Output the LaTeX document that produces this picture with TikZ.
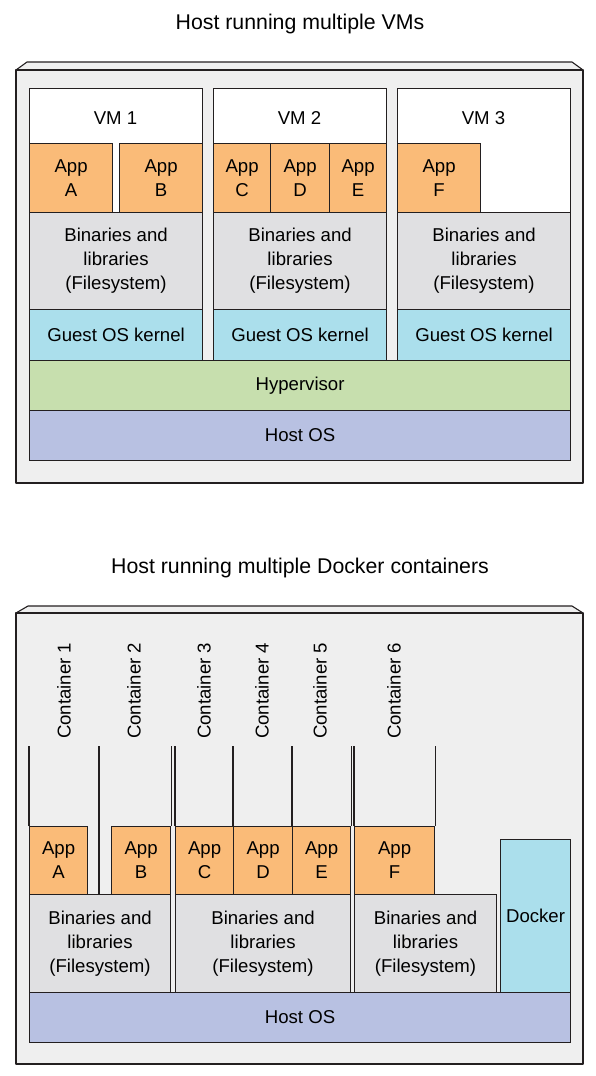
\documentclass[tikz,border=0pt]{standalone}
\usepackage{fontspec}
\setmainfont{Liberation Sans}
\usepackage{tikz}
\definecolor{edge}{RGB}{35,31,32}
\definecolor{hostgray}{RGB}{239,239,239}
\definecolor{apporange}{RGB}{250,187,120}
\definecolor{bingray}{RGB}{224,224,226}
\definecolor{kernblue}{RGB}{171,223,236}
\definecolor{hypgreen}{RGB}{199,223,174}
\definecolor{hostblue}{RGB}{184,193,226}
\tikzset{
  blk/.style={draw=edge, line width=1.1pt, inner sep=0pt, anchor=north west, align=center, font=\fontsize{18.6}{24}\selectfont},
  vmbox/.style={blk, fill=white},
  app/.style={blk, fill=apporange},
  bins/.style={blk, fill=bingray},
  kern/.style={blk, fill=kernblue},
  hyp/.style={blk, fill=hypgreen},
  hostos/.style={blk, fill=hostblue},
  hostbox/.style={draw=edge, line width=1.1pt, fill=hostgray, line join=round},
  heading/.style={font=\fontsize{21.3}{26}\selectfont},
  lbl/.style={font=\fontsize{18.6}{24}\selectfont},
  cline/.style={draw=edge, line width=1.1pt}
}
% name, style, x1, y1, x2, y2, text
\newcommand{\blk}[7]{%
  \pgfmathsetmacro\bw{#5-#3}\pgfmathsetmacro\bh{#6-#4}%
  \node[#2, minimum width=\bw pt, minimum height=\bh pt] (#1) at (#3,#4) {#7};}

\begin{document}
\begin{tikzpicture}[x=1pt, y=-1pt]
\useasboundingbox (0,0) rectangle (596,1076);

% host with VMs
\node[heading] (vmtitle) at (300,24) {Host running multiple VMs};
\draw[hostbox] (16,70) -- (27,62) -- (572,62) -- (583,70) -- cycle;
\draw[hostbox] (16,70) rectangle (583,483);
\blk{vmOne}{vmbox}{29}{88}{202}{212}{}
\blk{vmTwo}{vmbox}{213}{88}{386}{212}{}
\blk{vmThree}{vmbox}{397}{88}{570}{212}{}
\node[lbl] (vmOneLbl) at (115.5,118) {VM 1};
\node[lbl] (vmTwoLbl) at (299.5,118) {VM 2};
\node[lbl] (vmThreeLbl) at (483.5,118) {VM 3};
\blk{vAppA}{app}{29}{143}{112}{212}{App\\A}
\blk{vAppB}{app}{119}{143}{202}{212}{App\\B}
\blk{vAppC}{app}{213}{143}{270}{212}{App\\C}
\blk{vAppD}{app}{270}{143}{329}{212}{App\\D}
\blk{vAppE}{app}{329}{143}{386}{212}{App\\E}
\blk{vAppF}{app}{397}{143}{480}{212}{App\\F}
\foreach \n/\x in {One/29,Two/213,Three/397} {
  \pgfmathsetmacro\xr{\x+173}
  \blk{vBin\n}{bins}{\x}{212}{\xr}{309}{Binaries and\\libraries\\(Filesystem)}
  \blk{vKern\n}{kern}{\x}{309}{\xr}{360}{Guest OS kernel}
}
\blk{hypervisor}{hyp}{29}{360}{570}{410}{Hypervisor}
\blk{vHost}{hostos}{29}{410}{570}{460}{Host OS}

% host with Docker containers
\node[heading] (dktitle) at (300,568) {Host running multiple Docker containers};
\draw[hostbox] (16,613) -- (28,606) -- (572,606) -- (583,613) -- cycle;
\draw[hostbox] (16,613) rectangle (583,1064);
\blk{dAppA}{app}{29}{826}{87}{894}{App\\A}
\blk{dAppB}{app}{111}{826}{170}{894}{App\\B}
\blk{dAppC}{app}{175}{826}{233}{894}{App\\C}
\blk{dAppD}{app}{233}{826}{292}{894}{App\\D}
\blk{dAppE}{app}{292}{826}{350}{894}{App\\E}
\blk{dAppF}{app}{354}{826}{434}{894}{App\\F}
\blk{dBinOne}{bins}{29}{894}{170}{992}{Binaries and\\libraries\\(Filesystem)}
\blk{dBinTwo}{bins}{175}{894}{350}{992}{Binaries and\\libraries\\(Filesystem)}
\blk{dBinThree}{bins}{354}{894}{496}{992}{Binaries and\\libraries\\(Filesystem)}
\blk{docker}{kern}{500}{839}{570}{992}{Docker}
\blk{dHost}{hostos}{29}{992}{570}{1042}{Host OS}
\foreach \a in {dAppA.north west, dAppB.north east, dAppC.north west, dAppD.north west, dAppE.north west, dAppE.north east, dAppF.north west, dAppF.north east} {\draw[cline] (\a) -- ++(0,-80);}
\coordinate (split) at (99,894);
\draw[cline] (split) -- ++(0,-148);
\foreach \i/\x in {1/64,2/134,3/204,4/262,5/320,6/394} {\node[lbl, rotate=90, anchor=west, inner sep=0pt] (ctr\i) at (\x,739) {Container \i};}
\end{tikzpicture}
\end{document}
